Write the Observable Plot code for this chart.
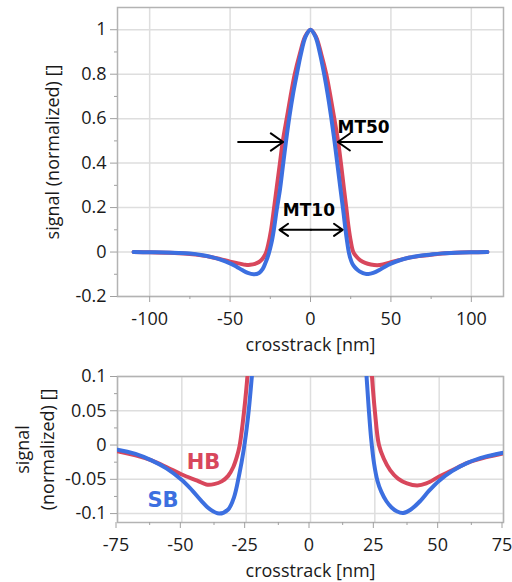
<!DOCTYPE html>
<html>
<head>
<meta charset="utf-8">
<script src="https://cdn.jsdelivr.net/npm/d3@7"></script>
<script src="https://cdn.jsdelivr.net/npm/@observablehq/plot@0.6"></script>
<style>
  html, body { margin: 0; padding: 0; background: #fff; }
  #chart svg { display: block; }
</style>
</head>
<body>
<div id="chart"></div>
<script>
// ---- data ----
const hbX = [-110,-100,-90,-82,-75,-68,-62,-56,-50,-44,-40.5,-37.5,-34.5,-32,-30,-28.6,-27.6,-26.4,-24.5,-22.8,-21,-19,-17.2,-14.8,-12.4,-9.8,-6.7,-3.3,0,
             3.3,6.7,9.8,12.4,14.8,17.1,18.9,20.7,22.4,23.7,25,26.6,28.5,31,34,37.5,41.5,45,50,55,61,68,75,82,90,100,110];
const hbY = [0,-0.001,-0.003,-0.005,-0.009,-0.015,-0.022,-0.032,-0.043,-0.052,-0.0575,-0.057,-0.053,-0.045,-0.032,-0.017,-0.002,0.03,0.1,0.19,0.29,0.4,0.5,0.6,0.7,0.8,0.89,0.97,1,
             0.97,0.89,0.8,0.7,0.6,0.5,0.4,0.29,0.19,0.11,0.05,0,-0.02,-0.037,-0.049,-0.056,-0.059,-0.056,-0.046,-0.037,-0.026,-0.018,-0.012,-0.007,-0.003,-0.001,0];
const sbX = [-110,-100,-90,-82,-75,-68,-62,-56,-50,-46,-42.5,-39,-35.5,-32,-29.7,-27.8,-26,-24.3,-22.8,-21,-19,-17.2,-15.2,-13.1,-11,-8.5,-6,-3,0,
             3,6,8.5,10.8,12.8,14.9,16.9,18.7,20.3,21.6,22.6,23.6,24.7,26,27.5,29.5,31.5,33.7,36,39,42.8,46,50,55,61,68,75,82,90,100,110];
const sbY = [0,-0.001,-0.002,-0.004,-0.007,-0.013,-0.022,-0.034,-0.051,-0.066,-0.081,-0.094,-0.1,-0.094,-0.076,-0.045,-0.008,0.04,0.1,0.19,0.28,0.385,0.5,0.61,0.705,0.8,0.89,0.97,1,
             0.97,0.89,0.8,0.705,0.61,0.5,0.385,0.28,0.19,0.11,0.055,0.008,-0.027,-0.052,-0.068,-0.082,-0.091,-0.097,-0.099,-0.094,-0.081,-0.067,-0.052,-0.038,-0.026,-0.017,-0.011,-0.006,-0.003,-0.001,0];

const topXTicks = [-100,-50,0,50,100];
const topXMinor = [-75,-25,25,75];
const topYTicks = [-0.2,0,0.2,0.4,0.6,0.8,1];
const topYMinor = [-0.1,0.1,0.3,0.5,0.7,0.9];
const botXTicks = [-75,-50,-25,0,25,50,75];
const botXMinor = [-62.5,-37.5,-12.5,12.5,37.5,62.5];
const botYTicks = [-0.1,-0.05,0,0.05,0.1];
const botYMinor = [-0.075,-0.025,0.025,0.075];

const xLabel = "crosstrack [nm]";
const yLabelTop = "signal (normalized) []";
const yLabelBot = "signal\n(normalized) []";

// annotations
const mt50Arrows = [{x1:-45, x2:-17, y:0.495}, {x1:44.5, x2:17, y:0.495}];
const mt10Arrows = [{x1:0.3, x2:-19.3, y:0.1}, {x1:0.3, x2:20, y:0.1}];
const topNotes = [{text:"MT50", x:33, y:0.56}, {text:"MT10", x:-1, y:0.185}];
const botNotes = [{text:"HB", x:-41.6, y:-0.025, series:"HB"}, {text:"SB", x:-57.3, y:-0.08, series:"SB"}];

const RED = "#d8475c", BLUE = "#3c6fe0";
const hbData = hbX.map((x,i) => ({x, y: hbY[i]}));
const sbData = sbX.map((x,i) => ({x, y: sbY[i]}));
const fmt = d => String(d);
const FONT = "Open Sans, sans-serif";
const GRID = "#dedede", FRAME = "#b3b3b3", TICK = "#a0a0a0";

function common(xT, xM, yT, yM, xdx) {
  return [
    Plot.gridX(xT, {stroke: GRID, strokeOpacity: 1, strokeWidth: 1.5}),
    Plot.gridY(yT, {stroke: GRID, strokeOpacity: 1, strokeWidth: 1.5}),
    Plot.frame({stroke: FRAME, strokeWidth: 1.5}),
    Plot.axisX(xT, {tickSize: 6, tickPadding: 10, tickFormat: fmt, label: null, stroke: TICK, fill: "#1a1a1a", dx: xdx}),
    Plot.axisX(xM, {tickSize: 3, tickFormat: () => "", label: null, stroke: TICK}),
    Plot.axisY(yT, {tickSize: 7, tickPadding: 4, tickFormat: fmt, label: null, stroke: TICK, fill: "#1a1a1a"}),
    Plot.axisY(yM, {tickSize: 3, tickFormat: () => "", label: null, stroke: TICK}),
    Plot.text([xLabel], {frameAnchor: "bottom", lineAnchor: "middle", textAnchor: "middle", dy: 49, fill: "#1a1a1a"})
  ];
}

const topChart = Plot.plot({
  width: 512, height: 360,
  marginLeft: 117, marginRight: 9, marginTop: 7, marginBottom: 64,
  x: {domain: [-120, 120]},
  y: {domain: [-0.2, 1.1]},
  style: {fontFamily: FONT, fontSize: "18px", color: "#1a1a1a", background: "#fff"},
  marks: [
    ...common(topXTicks, topXMinor, topYTicks, topYMinor, 0),
    Plot.text([yLabelTop], {frameAnchor: "left", textAnchor: "middle", lineAnchor: "middle", dx: -64, rotate: -90, fill: "#1a1a1a"}),
    Plot.line(hbData, {x: "x", y: "y", stroke: RED, strokeWidth: 4, curve: "catmull-rom"}),
    Plot.line(sbData, {x: "x", y: "y", stroke: BLUE, strokeWidth: 4, curve: "catmull-rom"}),
    Plot.arrow(mt50Arrows, {x1: "x1", x2: "x2", y1: "y", y2: "y", stroke: "black", strokeWidth: 2, headLength: 12, headAngle: 70}),
    Plot.arrow(mt10Arrows, {x1: "x1", x2: "x2", y1: "y", y2: "y", stroke: "black", strokeWidth: 2, headLength: 12, headAngle: 70}),
    Plot.text(topNotes, {x: "x", y: "y", text: "text", fontFamily: "DejaVu Sans, sans-serif", fontWeight: "bold", fontSize: 17, fill: "black"})
  ]
});

const botChart = Plot.plot({
  width: 512, height: 222,
  marginLeft: 117, marginRight: 9, marginTop: 16, marginBottom: 60,
  x: {domain: [-75, 75]},
  y: {domain: [-0.113, 0.1]},
  style: {fontFamily: FONT, fontSize: "18px", color: "#1a1a1a", background: "#fff"},
  marks: [
    ...common(botXTicks, botXMinor, botYTicks, botYMinor, -1.5),
    Plot.text([yLabelBot], {frameAnchor: "left", textAnchor: "middle", lineAnchor: "middle", dx: -84, rotate: -90, lineHeight: 1.4, fill: "#1a1a1a"}),
    Plot.line(hbData, {x: "x", y: "y", stroke: RED, strokeWidth: 4, curve: "catmull-rom", clip: true}),
    Plot.line(sbData, {x: "x", y: "y", stroke: BLUE, strokeWidth: 4, curve: "catmull-rom", clip: true}),
    Plot.text(botNotes, {x: "x", y: "y", text: "text", fill: d => d.series === "HB" ? RED : BLUE,
      fontFamily: "DejaVu Sans, sans-serif", fontWeight: "bold", fontSize: 21})
  ]
});

const el = document.getElementById("chart");
el.appendChild(topChart);
el.appendChild(botChart);
</script>
</body>
</html>
